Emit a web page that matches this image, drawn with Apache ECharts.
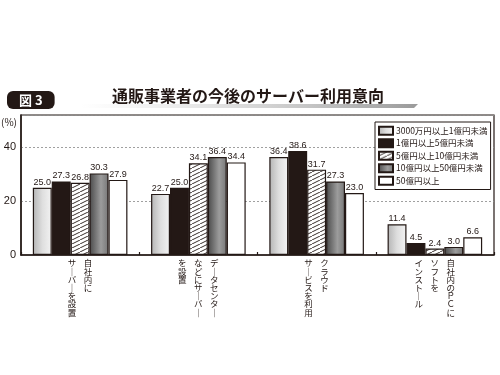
<!DOCTYPE html>
<html>
<head>
<meta charset="utf-8">
<script src="https://cdn.jsdelivr.net/npm/echarts@6/dist/echarts.min.js"></script>
<style>html,body{margin:0;padding:0;background:#fff;}#c{width:500px;height:375px;}</style>
</head>
<body>
<div id="c"></div>
<script>
// ---- data ----
var categories = ['自社内にサーバーを設置', 'データセンターなどにサーバーを設置', 'クラウドサービスを利用', '自社内のＰＣにソフトをインストール'];
// vertical label columns, in reading order (right column first)
var categoryColumns = [
  ['自社内に', 'サーバーを設置'],
  ['データセンター', 'などにサーバー', 'を設置'],
  ['クラウド', 'サービスを利用'],
  ['自社内のＰＣに', 'ソフトを', 'インストール']
];
var seriesNames = ['3000万円以上1億円未満', '1億円以上5億円未満', '5億円以上10億円未満', '10億円以上50億円未満', '50億円以上'];
var s1 = [25.0, 22.7, 36.4, 11.4];
var s2 = [27.3, 25.0, 38.6, 4.5];
var s3 = [26.8, 34.1, 31.7, 2.4];
var s4 = [30.3, 36.4, 27.3, 3.0];
var s5 = [27.9, 34.4, 23.0, 6.6];
var yTicks = [0, 20, 40];

var INK = '#231815';
var FONT = '"Noto Sans CJK JP", "Noto Sans", sans-serif';
var NUMFONT = '"Liberation Sans", Arial, sans-serif';

// hatch pattern
var pat = document.createElement('canvas');
pat.width = 8; pat.height = 4;
var pc = pat.getContext('2d');
pc.fillStyle = '#fff'; pc.fillRect(0, 0, 8, 4);
pc.strokeStyle = INK; pc.lineWidth = 0.9;
pc.beginPath(); pc.moveTo(-2, 5); pc.lineTo(10, -1); pc.stroke();

var colors = [
  {type: 'linear', x: 0, y: 0, x2: 1, y2: 0, colorStops: [{offset: 0, color: '#b4b4b4'}, {offset: 0.5, color: '#dedede'}, {offset: 1, color: '#f3f3f3'}]},
  INK,
  {image: pat, repeat: 'repeat'},
  {type: 'linear', x: 0, y: 0, x2: 1, y2: 0, colorStops: [{offset: 0, color: '#4a4a4a'}, {offset: 0.6, color: '#9c9c9c'}, {offset: 1, color: '#777777'}]},
  '#ffffff'
];
var allData = [s1, s2, s3, s4, s5];

function vert(s) { return s.replace(/ー/g, '｜'); }

function labelFormatter(value, idx) {
  var cols = categoryColumns[idx].slice().reverse();
  var n = 0;
  cols.forEach(function (c) { n = Math.max(n, c.length); });
  var lines = [];
  for (var i = 0; i < n; i++) {
    lines.push(cols.map(function (c) {
      var ch = c.charAt(i) || '　';
      return '{c|' + vert(ch) + '}';
    }).join(''));
  }
  return lines.join('\n');
}

var series = seriesNames.map(function (name, i) {
  return {
    name: name,
    type: 'bar',
    data: allData[i],
    barGap: '0%',
    barCategoryGap: '20%',
    itemStyle: {color: colors[i], borderColor: INK, borderWidth: 1.2},
    label: {
      show: true, position: 'top', distance: 1,
      fontSize: 9, fontFamily: NUMFONT, color: INK,
      formatter: function (p) { return p.value.toFixed(1); }
    }
  };
});

var chart = echarts.init(document.getElementById('c'), null, {renderer: 'canvas'});
chart.setOption({
  animation: false,
  backgroundColor: '#fff',
  title: [
    {
      text: '図 3', left: 7, top: 91,
      backgroundColor: INK, borderRadius: 6, padding: [1, 12, 1, 12],
      textStyle: {color: '#fff', fontSize: 13, fontWeight: 'bold', fontFamily: FONT, lineHeight: 16}
    },
    {
      text: '通販事業者の今後のサーバー利用意向', left: 112, top: 88, padding: 0,
      textStyle: {color: INK, fontSize: 16, fontWeight: 'bold', fontFamily: FONT}
    }
  ],
  graphic: [
    {
      type: 'polygon', z: -1,
      shape: {points: [[80, 104], [418, 104], [414, 108], [80, 108]]},
      style: {fill: {type: 'linear', x: 0, y: 0, x2: 1, y2: 0, colorStops: [{offset: 0, color: 'rgba(200,200,200,0)'}, {offset: 1, color: '#9a9a9a'}]}}
    },
    {
      type: 'text', left: 1, top: 117,
      style: {text: '(%)', fontSize: 10, fill: INK, fontFamily: FONT}
    }
  ],
  legend: {
    orient: 'vertical', left: 375, top: 122,
    data: seriesNames,
    icon: 'rect', itemWidth: 14, itemHeight: 8, itemGap: 1,
    padding: [3, 3, 3, 3],
    backgroundColor: '#fff', borderColor: INK, borderWidth: 1,
    textStyle: {fontSize: 8.5, color: INK, fontFamily: FONT, lineHeight: 11.5, padding: [0, 0, 0, -2]}
  },
  grid: {left: 21, right: 6, top: 115, bottom: 120, show: true, borderColor: INK, borderWidth: 1.2, containLabel: false},
  xAxis: {
    type: 'category', data: categories,
    axisLine: {show: true, lineStyle: {color: INK, width: 1.5}},
    axisTick: {show: true, inside: true, length: 3, lineStyle: {color: INK, width: 1.2}},
    axisLabel: {
      interval: 0, margin: 4, formatter: labelFormatter, verticalAlign: 'top',
      rich: {c: {width: 16, align: 'center', fontSize: 8.5, lineHeight: 8.2, color: INK, fontFamily: FONT}}
    }
  },
  yAxis: {
    type: 'value', min: 0, max: 52, interval: 20,
    axisLine: {show: true, lineStyle: {color: INK, width: 1.5}},
    axisTick: {show: false},
    axisLabel: {
      fontSize: 11, color: INK, margin: 5, fontFamily: '"Liberation Sans", Arial, sans-serif',
      formatter: function (v) { return yTicks.indexOf(v) >= 0 ? String(v) : ''; }
    },
    splitLine: {show: true, lineStyle: {color: '#888', width: 0.8, type: [2, 2]}}
  },
  series: series
});
</script>
</body>
</html>
